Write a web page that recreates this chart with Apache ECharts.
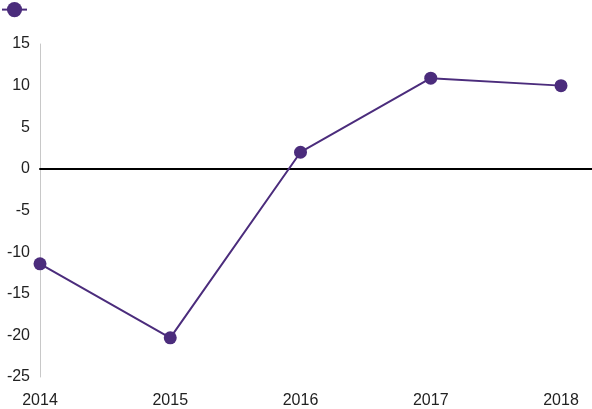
<!DOCTYPE html>
<html>
<head>
    <meta http-equiv="Content-Type" content="text/html; charset=utf-8"/>
    <title>chart</title>
    <style>
        html, body { margin: 0; padding: 0; background: #fff; }
        #main { width: 592px; height: 409px; }
    </style>
    <script src="https://cdn.jsdelivr.net/npm/echarts@6/dist/echarts.min.js"></script>
</head>
<body>
<div id="main"></div>
<script type="text/javascript">
    var years = ['2014', '2015', '2016', '2017', '2018'];
    var values = [-11.4, -20.3, 2.0, 10.9, 10.0];
    var yMin = -25, yMax = 15, yStep = 5;

    var myChart = echarts.init(document.getElementById('main'));
    var lineColor = '#4B2C7C';
    var font = 'Arial, "Liberation Sans", sans-serif';

    option = {
        animation: false,
        legend: {
            left: 1,
            top: 2,
            padding: 0,
            itemWidth: 25,
            itemHeight: 19,
            textStyle: { fontSize: 1 },
            data: [' ']
        },
        grid: [
            { left: 40, right: 31, top: 44, bottom: 32 },
            { left: 40, right: 0, top: 44, bottom: 32 }
        ],
        xAxis: [
            {
                type: 'category',
                gridIndex: 0,
                boundaryGap: false,
                data: years,
                axisLine: { show: false, onZero: false },
                axisTick: { show: false },
                axisLabel: { color: '#222', fontSize: 16, fontFamily: font, margin: 16 },
                splitLine: { show: false }
            },
            {
                type: 'value',
                gridIndex: 1,
                min: 0,
                max: 1,
                axisLine: { show: true, onZero: true, lineStyle: { color: '#000', width: 2 } },
                axisTick: { show: false },
                axisLabel: { show: false },
                splitLine: { show: false }
            }
        ],
        yAxis: [
            {
                type: 'value',
                gridIndex: 0,
                min: yMin,
                max: yMax,
                interval: yStep,
                axisLine: { show: true, lineStyle: { color: '#c8c8c8', width: 1 } },
                axisTick: { show: false },
                axisLabel: { color: '#222', fontSize: 16, fontFamily: font, margin: 10 },
                splitLine: { show: false }
            },
            {
                type: 'value',
                gridIndex: 1,
                min: yMin,
                max: yMax,
                interval: yStep,
                axisLine: { show: false },
                axisTick: { show: false },
                axisLabel: { show: false },
                splitLine: { show: false }
            }
        ],
        series: [
            {
                name: ' ',
                type: 'line',
                xAxisIndex: 0,
                yAxisIndex: 0,
                data: values,
                symbol: 'circle',
                symbolSize: 13,
                z: 3,
                itemStyle: { color: lineColor },
                lineStyle: { color: lineColor, width: 2 }
            }
        ]
    };
    myChart.setOption(option);
</script>
</body>
</html>
